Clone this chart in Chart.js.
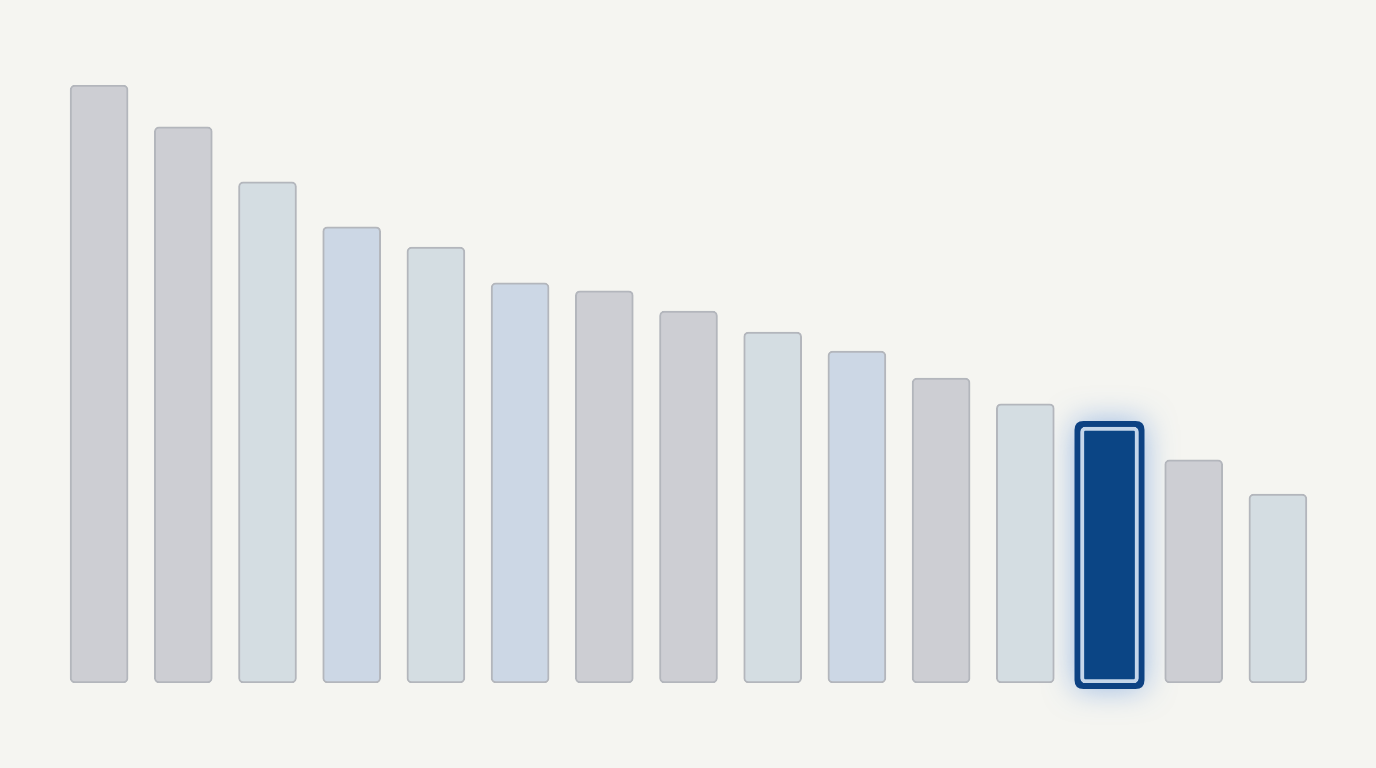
<!DOCTYPE html>
<html>
<head>
<meta charset="utf-8">
<script src="https://cdn.jsdelivr.net/npm/chart.js@4.4.1/dist/chart.umd.min.js"></script>
<style>
  html, body { margin: 0; padding: 0; background: #f5f5f1; }
  #wrap { width: 1376px; height: 768px; }
</style>
</head>
<body>
<div id="wrap"><canvas id="chart"></canvas></div>
<script>
const categories = ['1', '2', '3', '4', '5', '6', '7', '8', '9', '10', '11', '12', '13', '14', '15'];
const values = [100, 93, 83.8, 76.3, 72.9, 66.9, 65.6, 62.2, 58.7, 55.5, 51, 46.7, 42.8, 37.3, 31.6];
const highlightIndex = 12;

const GRAY = '#cdced3', MIST = '#d4dde2', BLUE = '#ccd7e5', NAVY = '#0b4585';
const barColors = [GRAY, GRAY, MIST, BLUE, MIST, BLUE, GRAY, GRAY, MIST, BLUE, GRAY, MIST, NAVY, GRAY, MIST];

function roundRect(ctx, x, y, w, h, r) {
  ctx.beginPath();
  ctx.moveTo(x + r, y);
  ctx.lineTo(x + w - r, y);
  ctx.quadraticCurveTo(x + w, y, x + w, y + r);
  ctx.lineTo(x + w, y + h - r);
  ctx.quadraticCurveTo(x + w, y + h, x + w - r, y + h);
  ctx.lineTo(x + r, y + h);
  ctx.quadraticCurveTo(x, y + h, x, y + h - r);
  ctx.lineTo(x, y + r);
  ctx.quadraticCurveTo(x, y, x + r, y);
  ctx.closePath();
}

// dark frame + soft glow behind the highlighted bar
const highlightFrame = {
  id: 'highlightFrame',
  beforeDatasetsDraw(chart) {
    const bar = chart.getDatasetMeta(0).data[highlightIndex];
    if (!bar) return;
    const { x, y, base, width } = bar.getProps(['x', 'y', 'base', 'width'], true);
    const pad = 6;
    const ctx = chart.ctx;
    ctx.save();
    ctx.shadowColor = 'rgba(70, 130, 215, 0.5)';
    ctx.shadowBlur = 30;
    ctx.fillStyle = '#0d4283';
    roundRect(ctx, x - width / 2 - pad, y - pad, width + pad * 2, base - y + pad * 2, 9);
    ctx.fill();
    ctx.restore();
  }
};

new Chart(document.getElementById('chart'), {
  type: 'bar',
  data: {
    labels: categories,
    datasets: [{
      data: values,
      backgroundColor: barColors,
      borderColor: values.map((v, i) => i === highlightIndex ? '#c5d6ea' : '#b3b6bc'),
      borderWidth: values.map((v, i) => i === highlightIndex ? 4 : 2),
      borderRadius: 5,
      borderSkipped: false,
      barThickness: 58
    }]
  },
  options: {
    responsive: true,
    maintainAspectRatio: false,
    animation: false,
    layout: { padding: { left: 57, right: 56, top: 85, bottom: 85 } },
    scales: {
      x: { display: false, offset: true },
      y: { display: false, min: 0, max: 100 }
    },
    plugins: {
      legend: { display: false },
      tooltip: { enabled: false }
    }
  },
  plugins: [highlightFrame]
});
</script>
</body>
</html>
